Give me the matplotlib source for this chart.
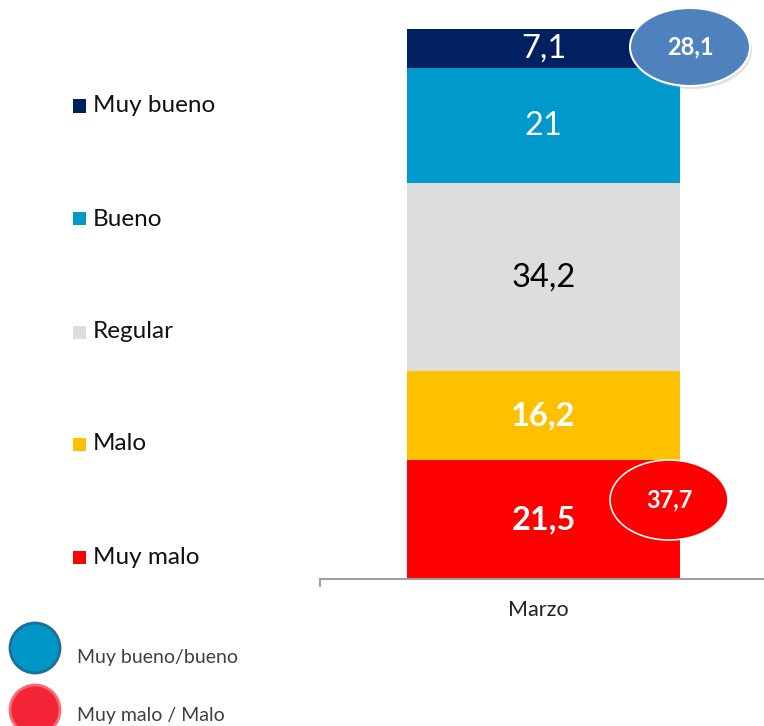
import matplotlib
matplotlib.use("Agg")
import matplotlib.pyplot as plt
from matplotlib.patches import Ellipse, Rectangle

categories = ["Marzo"]
series_names = ["Muy malo", "Malo", "Regular", "Bueno", "Muy bueno"]
values = [21.5, 16.2, 34.2, 21.0, 7.1]
value_labels = ["21,5", "16,2", "34,2", "21", "7,1"]
colors = ["#FF0000", "#FFC000", "#DDDDDD", "#0099CC", "#002060"]
summary_labels = ["Muy bueno/bueno", "Muy malo / Malo"]
summary_values = ["28,1", "37,7"]

plt.rcParams['font.family'] = ['Lato', 'DejaVu Sans']

W, H = 764, 726
fig = plt.figure(figsize=(W / 100, H / 100), dpi=100)

def fx(px):
    return px / W

def fy(py):
    return 1 - py / H

ax_left, ax_right = 320, 767
ax_top, ax_bot = 29, 578.5
ax = fig.add_axes([fx(ax_left), fy(ax_bot), fx(ax_right - ax_left), (ax_bot - ax_top) / H])
ax.set_ylim(0, 100)
ax.set_xlim(-0.82, 0.82)

bottom = 0
label_styles = [
    dict(color="white", fontweight="bold", fontsize=23.5),
    dict(color="white", fontweight="bold", fontsize=23.5),
    dict(color="black", fontweight="normal", fontsize=23.5),
    dict(color="white", fontweight="normal", fontsize=23.5),
    dict(color="white", fontweight="normal", fontsize=23.5),
]
for v, c, lab, st in zip(values, colors, value_labels, label_styles):
    ax.bar(0, v, bottom=bottom, width=1.0, color=c, edgecolor="none")
    ax.text(0, bottom + v / 2, lab, ha="center", va="center", **st)
    bottom += v

for s in ["top", "right", "left"]:
    ax.spines[s].set_visible(False)
ax.spines["bottom"].set_color("#A0A0A0")
ax.spines["bottom"].set_linewidth(1.5)
ax.set_yticks([])
ax.set_xticks([-0.82])
ax.set_xticklabels([""])
ax.tick_params(axis="x", length=6, color="#A0A0A0", width=1.5)
ax.text(-0.02, -5.8, categories[0], ha="center", va="center", fontsize=15.5, color="#222222")

# left legend
leg_y = [557, 444, 332, 219, 106]
for name, c, y in zip(series_names, colors, leg_y):
    fig.patches.append(Rectangle((fx(73), fy(y + 6.5)), fx(13), 13 / H,
                                 transform=fig.transFigure, facecolor=c, edgecolor="none"))
    fig.text(fx(93), fy(y), name, ha="left", va="center", fontsize=17.5, color="#111111")

# summary ellipses (drawn in an overlay axes covering the figure)
ov = fig.add_axes([0, 0, 1, 1], zorder=10)
ov.set_xlim(0, W)
ov.set_ylim(H, 0)
ov.axis("off")
ov.patch.set_alpha(0)

ov.add_patch(Ellipse((692, 50), 120, 78, facecolor="#999999", edgecolor="none", alpha=0.3))
ov.add_patch(Ellipse((690, 47), 120, 78, facecolor="#4F81BD", edgecolor="white", linewidth=1.5))
ov.text(690, 47, summary_values[0], ha="center", va="center", fontsize=17,
        fontweight="bold", color="white")

ov.add_patch(Ellipse((669, 500), 118, 80, facecolor="#FF0000", edgecolor="white", linewidth=1.2))
ov.text(669, 500, summary_values[1], ha="center", va="center", fontsize=17,
        fontweight="bold", color="white")

# bottom legend circles
ov.add_patch(Ellipse((35, 648), 50, 50, facecolor="#0096C8", edgecolor="#1C6E99", linewidth=2))
ov.add_patch(Ellipse((35, 710), 50, 50, facecolor="#F22435", edgecolor="#F56A75", linewidth=2))
ov.text(77, 657, summary_labels[0], ha="left", va="center", fontsize=14, color="#404040")
ov.text(77, 715, summary_labels[1], ha="left", va="center", fontsize=14, color="#404040")

fig.savefig("out.png", dpi=100)
